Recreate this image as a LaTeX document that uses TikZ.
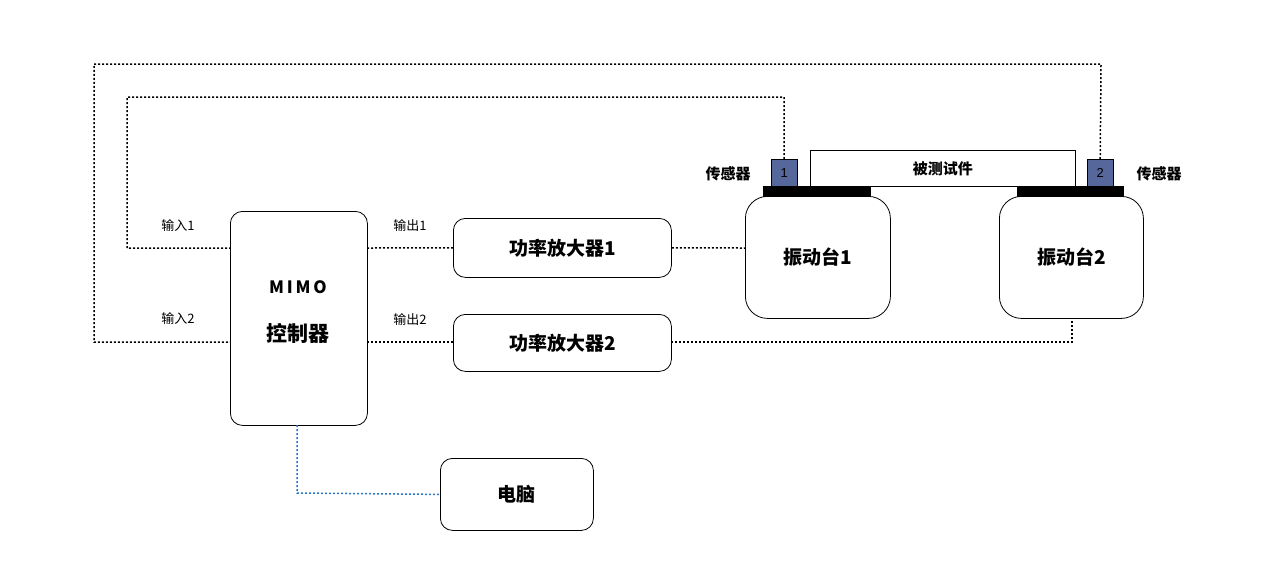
\documentclass[tikz,border=0pt]{standalone}
\usepackage{fontspec}
\setmainfont{Liberation Sans}
\newfontfamily\cjk{Noto Sans CJK SC}
\begin{document}
\begin{tikzpicture}[x=1pt,y=-1pt,
 box/.style={draw,thick,rounded corners=12pt,font=\cjk\bfseries\fontsize{19}{22}\selectfont,inner sep=0},
 lab/.style={font=\cjk\fontsize{13}{15}\selectfont,inner sep=0},
 dl/.style={thick,dotted,line width=1.5pt,dash pattern=on 2pt off 2pt},
 sen/.style={draw,fill=sencol,font=\fontsize{13}{15}\selectfont,inner sep=0}]
\definecolor{sencol}{HTML}{56679C}
\definecolor{pcblue}{HTML}{2E75C6}
\useasboundingbox (0,0) rectangle (1268,582);
\node[box,minimum width=137,minimum height=214,anchor=north west] (mimo) at (230,211) {};
\node[font=\cjk\bfseries\fontsize{17}{20}\selectfont] (t1) at (298,287) {M\,I\,M\,O};
\node[font=\cjk\bfseries\fontsize{21}{24}\selectfont] (t2) at (298,333) {控制器};
\node[box,minimum width=218,minimum height=59,anchor=north west] (a1) at (453,218) {功率放大器1};
\node[box,minimum width=218,minimum height=57,anchor=north west] (a2) at (453,314) {功率放大器2};
\node[box,minimum width=153,minimum height=72,anchor=north west] (pc) at (440,458) {电脑};
\node[box,rounded corners=22pt,minimum width=145,minimum height=122,anchor=north west] (s1) at (745,196) {振动台1};
\node[box,rounded corners=22pt,minimum width=144,minimum height=122,anchor=north west] (s2) at (999,196) {振动台2};
\fill (763,186) rectangle (871,197);
\fill (1017,186) rectangle (1124,197);
\node[draw,thick,minimum width=265,minimum height=36,anchor=north west,font=\cjk\bfseries\fontsize{15}{18}\selectfont,inner sep=0] (sp) at (810,150) {被测试件};
\node[sen,minimum width=26,minimum height=27,anchor=north west] (se1) at (771,159) {1};
\node[sen,minimum width=26,minimum height=27,anchor=north west] (se2) at (1087,159) {2};
\node[font=\cjk\bfseries\fontsize{15}{18}\selectfont] (l1) at (728,174) {传感器};
\node[font=\cjk\bfseries\fontsize{15}{18}\selectfont] (l2) at (1159,174) {传感器};
\node[lab] at (178,226) {输入1};
\node[lab] at (178,319) {输入2};
\node[lab] at (410,226) {输出1};
\node[lab] at (410,320) {输出2};
\coordinate (i1) at (230,248);
\coordinate (i2) at (230,342);
\draw[dl] (se1.north) -- (784,97) -- (127,97) -- (127,248) -- (i1);
\draw[dl] (se2.north) -- (1101,64) -- (94,64) -- (94,342) -- (i2);
\draw[dl] (367,248) -- (a1.west);
\draw[dl] (a1.east) -- (745,248);
\draw[dl] (367,342) -- (a2.west |- 0,342);
\draw[dl] (671,342) -- (1072,342) -- (1072,318);
\draw[dl,pcblue] (297,425) -- (297,493) -- (pc.west);
\end{tikzpicture}
\end{document}
